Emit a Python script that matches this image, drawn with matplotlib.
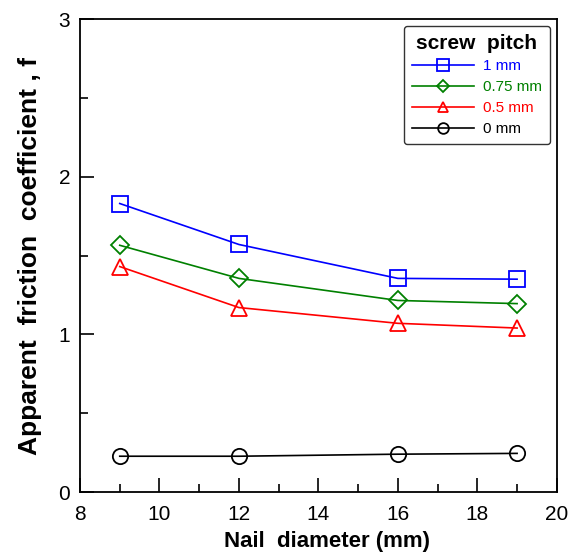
import numpy as np
import matplotlib.pyplot as plt
from matplotlib.ticker import MultipleLocator

plt.rcParams['font.family'] = ['Liberation Sans', 'DejaVu Sans']

# Data
nail_diameter = [9, 12, 16, 19]
f_1mm = [1.83, 1.57, 1.355, 1.35]
f_075mm = [1.565, 1.355, 1.215, 1.195]
f_05mm = [1.43, 1.17, 1.07, 1.04]
f_0mm = [0.227, 0.227, 0.24, 0.245]
labels = ['1 mm', '0.75 mm', '0.5 mm', '0 mm']

fig = plt.figure(figsize=(5.69, 5.60), dpi=100)
ax = fig.add_axes([0.1406, 0.1214, 0.838, 0.8446])

series = [(f_1mm, 'blue', 's', 12), (f_075mm, 'green', 'D', 9),
          (f_05mm, 'red', '^', 11), (f_0mm, 'black', 'o', 11)]
for (vals, col, mk, ms), lab in zip(series, labels):
    ax.plot(nail_diameter, vals, color=col, marker=mk, markersize=ms,
            markerfacecolor='none', markeredgewidth=1.3, linewidth=1.2,
            label=lab)

ax.set_xlim(8, 20)
ax.set_ylim(0, 3)
ax.xaxis.set_major_locator(MultipleLocator(2))
ax.xaxis.set_minor_locator(MultipleLocator(1))
ax.yaxis.set_major_locator(MultipleLocator(1))
ax.yaxis.set_minor_locator(MultipleLocator(0.5))
ax.tick_params(which='both', direction='in', top=False, right=False,
               labelsize=15, width=1.2)
ax.tick_params(which='major', length=10, pad=7)
ax.tick_params(axis='x', which='major', pad=9)
ax.tick_params(which='minor', length=6)
for sp in ax.spines.values():
    sp.set_linewidth(1.3)

ax.set_xlabel('Nail  diameter (mm)', fontsize=16, fontweight='bold', labelpad=9)
ax.xaxis.set_label_coords(0.518, -0.083)
ax.set_ylabel('Apparent  friction  coefficient , f', fontsize=19,
              fontweight='bold', labelpad=12)

leg = ax.legend(title='screw  pitch', loc='upper right', fontsize=11,
                title_fontproperties={'weight': 'bold', 'size': 15},
                labelcolor='linecolor', markerscale=0.7, handlelength=4.1,
                frameon=True, fancybox=True, edgecolor='black',
                borderaxespad=0.45, labelspacing=0.45, handletextpad=0.6,
                borderpad=0.5)
leg.get_frame().set_linewidth(1.0)

fig.savefig('out.png', dpi=100)
